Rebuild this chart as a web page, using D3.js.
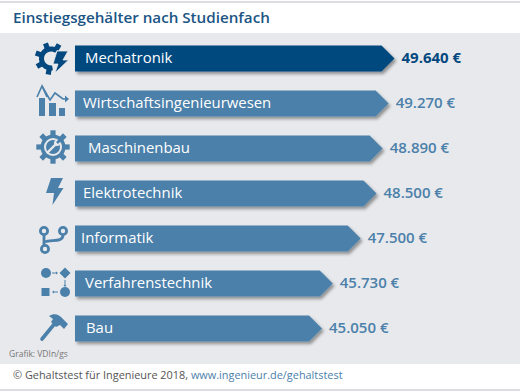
<!DOCTYPE html>
<html>
<head>
<meta charset="utf-8">
<script src="https://cdn.jsdelivr.net/npm/d3@7"></script>
<style>
  html, body { margin: 0; padding: 0; background: #fff; }
  text { font-family: "Open Sans", sans-serif; }
</style>
</head>
<body>
<svg id="chart" width="520" height="392"></svg>
<script>
"use strict";
const subjects = ["Mechatronik", "Wirtschaftsingenieurwesen", "Maschinenbau", "Elektrotechnik", "Informatik", "Verfahrenstechnik", "Bau"];
const salaries = [49640, 49270, 48890, 48500, 47500, 45730, 45050];
const salaryLabels = ["49.640 €", "49.270 €", "48.890 €", "48.500 €", "47.500 €", "45.730 €", "45.050 €"];
const iconNames = ["gearBolt", "trend", "gearWrench", "bolt", "branch", "flow", "hammer"];

const DARK = "#03487f", MID = "#4b80aa", TITLE = "#1b5584", PANEL = "#e8e9ec";
const labelInset = [10, 8, 13, 8, 6, 10, 11];

const svg = d3.select("#chart");

const shadow = svg.append("defs").append("filter").attr("id", "shadow")
    .attr("x", "-5%").attr("y", "-20%").attr("width", "112%").attr("height", "150%");
shadow.append("feDropShadow").attr("dx", 2).attr("dy", 2.5).attr("stdDeviation", 1.6)
    .attr("flood-color", "#000").attr("flood-opacity", 0.38);

// frame
svg.append("rect").attr("x", 0).attr("y", 1).attr("width", 520).attr("height", 2).attr("fill", "#dcdde0");
svg.append("rect").attr("x", 0).attr("y", 33).attr("width", 520).attr("height", 331).attr("fill", PANEL);
svg.append("rect").attr("x", 0).attr("y", 389).attr("width", 520).attr("height", 2).attr("fill", "#dcdde0");

svg.append("text").attr("x", 13).attr("y", 23).attr("fill", TITLE)
    .attr("font-size", 15.2).attr("font-weight", 600).text("Einstiegsgehälter nach Studienfach");

const x = d3.scaleLinear().domain([45050, 49640]).range([322, 394.5]);
const y = d3.scaleBand().domain(subjects).range([36, 351]).paddingInner(0.42).paddingOuter(0.21);
const barLeft = 75, tip = 13;

const row = svg.append("g").selectAll("g").data(subjects).join("g");

row.append("path")
    .attr("filter", "url(#shadow)")
    .attr("fill", (d, i) => i === 0 ? DARK : MID)
    .attr("d", (d, i) => {
        const t = y(d), b = t + y.bandwidth(), r = x(salaries[i]);
        const p = d3.path();
        p.moveTo(barLeft, t);
        p.lineTo(r - tip, t);
        p.lineTo(r, (t + b) / 2);
        p.lineTo(r - tip, b);
        p.lineTo(barLeft, b);
        p.closePath();
        return p.toString();
    });

row.append("text")
    .attr("x", (d, i) => barLeft + labelInset[i])
    .attr("y", d => y(d) + y.bandwidth() / 2 + 4.2)
    .attr("fill", "#fff").attr("font-size", 14.9).attr("font-weight", 500)
    .text(d => d);

row.append("text")
    .attr("x", (d, i) => x(salaries[i]) + 7)
    .attr("y", d => y(d) + y.bandwidth() / 2 + 4.6)
    .attr("fill", (d, i) => i === 0 ? DARK : MID)
    .attr("font-size", 15).attr("font-weight", (d, i) => i === 0 ? 700 : 600)
    .text((d, i) => salaryLabels[i]);

// ring with square teeth, angles in degrees
function gear(g, c, cx, cy, r, width, toothAngles) {
    toothAngles.forEach(a => {
        g.append("rect").attr("x", r).attr("y", -2.6).attr("width", width / 2 + 3.2).attr("height", 5.2)
            .attr("fill", c).attr("transform", `translate(${cx},${cy}) rotate(${a})`);
    });
}

const icons = {
    gearBolt(g, c) {
        const arc = d3.arc().innerRadius(7).outerRadius(12).startAngle(Math.PI * 0.95).endAngle(Math.PI * 2.2);
        g.append("path").attr("d", arc()).attr("transform", "translate(51,58.5)").attr("fill", c);
        gear(g, c, 51, 58.5, 10.5, 5, [-60, -110, -160, 150, 100]);
        g.append("path").attr("d", "M57 51 H68 L63 60 H68.5 L55 73 L58 64 H53 Z").attr("fill", c).attr("stroke", PANEL).attr("stroke-width", 0.8);
    },
    trend(g, c) {
        g.append("path").attr("d", "M39 98 H45 V116 H39 Z M49 103 H56 V116 H49 Z M59 108 H65 V116 H59 Z").attr("fill", c);
        g.append("path").attr("d", "M37 97 L42 86 L47 97").attr("fill", "none").attr("stroke", c).attr("stroke-width", 1.6);
        g.append("path").attr("d", "M42 86 L50 100 L55 93 L63 99 H67").attr("fill", "none").attr("stroke", c).attr("stroke-width", 1.6);
        g.append("path").attr("d", "M65 95.5 L69 99 L65 102.5 Z").attr("fill", c);
    },
    gearWrench(g, c) {
        gear(g, c, 53, 147, 11, 5, d3.range(0, 360, 45));
        g.append("circle").attr("cx", 53).attr("cy", 147).attr("r", 12.5).attr("fill", c);
        g.append("circle").attr("cx", 53).attr("cy", 147).attr("r", 9).attr("fill", PANEL);
        g.append("circle").attr("cx", 53).attr("cy", 147).attr("r", 7).attr("fill", c);
        g.append("path").attr("d", "M47 153 L56 144").attr("stroke", PANEL).attr("stroke-width", 2.4);
        g.append("circle").attr("cx", 57).attr("cy", 143).attr("r", 3).attr("fill", PANEL);
        g.append("path").attr("d", "M57 143 L62 138").attr("stroke", c).attr("stroke-width", 2.6);
    },
    bolt(g, c) {
        g.append("path").attr("d", "M51 178 H63 L58 188 H63.5 L52.5 205 L54 193 H46 Z").attr("fill", c);
    },
    branch(g, c) {
        const line = g.append("g").attr("fill", "none").attr("stroke", c).attr("stroke-width", 2.8);
        line.append("path").attr("d", "M44 235 V245");
        line.append("path").attr("d", "M63 235 C63 243 50 239 45 242");
        [[44, 231], [63, 231], [45, 249]].forEach(p => {
            line.append("circle").attr("cx", p[0]).attr("cy", p[1]).attr("r", 3.6);
        });
    },
    flow(g, c) {
        g.append("circle").attr("cx", 46).attr("cy", 273).attr("r", 5).attr("fill", c);
        g.append("path").attr("d", "M65 267.5 L70.5 273 L65 278.5 L59.5 273 Z").attr("fill", c);
        g.append("rect").attr("x", 41.5).attr("y", 288).attr("width", 8).attr("height", 8).attr("fill", c);
        g.append("circle").attr("cx", 65).attr("cy", 292).attr("r", 5).attr("fill", c);
        g.append("path").attr("d", "M52 273 H56 M65 280 V285 M54 292 H58").attr("stroke", c).attr("stroke-width", 1);
        g.append("path").attr("d", "M56 271.5 L58 273 L56 274.5 Z M63.5 285 L65 287 L66.5 285 Z M54 290.5 L52 292 L54 293.5 Z").attr("fill", c);
    },
    hammer(g, c) {
        g.append("path").attr("d", "M42 339 L56 322").attr("stroke", c).attr("stroke-width", 3.6).attr("stroke-linecap", "round");
        g.append("path").attr("d", "M49 316 C54 313 59 314 63 319 L68 324 L64 329 L60 325 L56 327 L51 322 L53 319 Z").attr("fill", c);
    }
};

iconNames.forEach((name, i) => {
    icons[name](svg.append("g"), i === 0 ? DARK : MID);
});

svg.append("text").attr("x", 9).attr("y", 357).attr("fill", "#777").attr("font-size", 8.5).text("Grafik: VDIn/gs");

const foot = svg.append("text").attr("x", 13).attr("y", 379).attr("font-size", 10.9).attr("fill", "#555");
foot.append("tspan").text("© Gehaltstest für Ingenieure 2018, ");
foot.append("tspan").attr("fill", MID).text("www.ingenieur.de/gehaltstest");
</script>
</body>
</html>
